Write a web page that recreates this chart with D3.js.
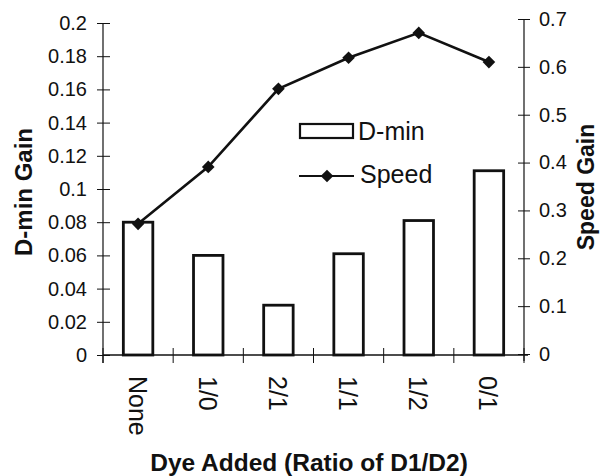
<!DOCTYPE html>
<html>
<head>
<meta charset="utf-8">
<script src="https://cdn.jsdelivr.net/npm/d3@7"></script>
<style>
  body { margin: 0; background: #fff; }
  svg { display: block; }
  text { font-family: "Liberation Sans", Arial, sans-serif; fill: #111; }
</style>
</head>
<body>
<svg id="chart" width="601" height="476"></svg>
<script>
const categories = ["None", "1/0", "2/1", "1/1", "1/2", "0/1"];
const dminGain = [0.08, 0.06, 0.03, 0.061, 0.081, 0.111];
const speedGain = [0.272, 0.391, 0.554, 0.619, 0.671, 0.61];
const leftTicks = [0, 0.02, 0.04, 0.06, 0.08, 0.1, 0.12, 0.14, 0.16, 0.18, 0.2];
const rightTicks = [0, 0.1, 0.2, 0.3, 0.4, 0.5, 0.6, 0.7];

const svg = d3.select("#chart");
const ink = "#111";
const FONT = "Liberation Sans, Arial, sans-serif";

const x = d3.scaleBand().domain(categories).range([103, 524]).padding(0);
const yL = d3.scaleLinear().domain([0, 0.2]).range([355, 23]);
const yR = d3.scaleLinear().domain([0, 0.7]).range([354, 19]);
const fmt = d => String(+d.toFixed(2));

// left axis
const gL = svg.append("g").attr("transform", "translate(103,0)")
  .call(d3.axisLeft(yL).tickValues(leftTicks).tickFormat(fmt).tickSize(6).tickPadding(10));
gL.select(".domain").remove();
gL.selectAll(".tick line").attr("x1", -6).attr("x2", 7).attr("stroke", ink);
gL.selectAll(".tick text").attr("font-size", 20).attr("font-family", FONT).attr("fill", ink);
gL.append("line").attr("x1", 0).attr("x2", 0).attr("y1", yL(0.2)).attr("y2", 363).attr("stroke", ink).attr("stroke-width", 1.2);

// right axis
const gR = svg.append("g").attr("transform", "translate(524,0)")
  .call(d3.axisRight(yR).tickValues(rightTicks).tickFormat(fmt).tickSize(6).tickPadding(9));
gR.select(".domain").remove();
gR.selectAll(".tick line").attr("x1", -6).attr("x2", 6).attr("stroke", ink);
gR.selectAll(".tick text").attr("font-size", 20).attr("font-family", FONT).attr("fill", ink);
gR.append("line").attr("x1", 0).attr("x2", 0).attr("y1", yR(0.7)).attr("y2", 361).attr("stroke", ink).attr("stroke-width", 1.2);

// x axis
const gX = svg.append("g").attr("transform", "translate(0,355)");
gX.append("line").attr("x1", 103).attr("x2", 528).attr("y1", 0).attr("y2", 0).attr("stroke", ink).attr("stroke-width", 1.5);
const edges = categories.map(c => x(c)).concat([x.range()[1]]);
gX.selectAll("line.edge").data(edges).join("line").attr("class", "edge")
  .attr("x1", d => d).attr("x2", d => d).attr("y1", -7).attr("y2", 8)
  .attr("stroke", ink).attr("stroke-width", 1);
gX.selectAll("text.cat").data(categories).join("text").attr("class", "cat")
  .attr("transform", d => `translate(${x(d) + x.bandwidth() / 2},21) rotate(90)`)
  .attr("dy", "0.38em").attr("font-size", 25).text(d => d);

// bars
const bw = x.bandwidth() * 0.42;
svg.append("g").selectAll("rect").data(categories).join("rect")
  .attr("x", d => x(d) + (x.bandwidth() - bw) / 2)
  .attr("width", bw)
  .attr("y", (d, i) => yL(dminGain[i]))
  .attr("height", (d, i) => yL(0) - yL(dminGain[i]))
  .attr("fill", "#fff").attr("stroke", ink).attr("stroke-width", 2.8);

// speed line
const squareDiamond = {
  draw(ctx, size) {
    const r = Math.sqrt(size / 2);
    ctx.moveTo(0, -r); ctx.lineTo(r, 0); ctx.lineTo(0, r); ctx.lineTo(-r, 0); ctx.closePath();
  }
};
const diamond = d3.symbol().type(squareDiamond).size(80);
const line = d3.line().x((d, i) => x(categories[i]) + x.bandwidth() / 2).y(d => yR(d));
svg.append("path").datum(speedGain).attr("d", line)
  .attr("fill", "none").attr("stroke", ink).attr("stroke-width", 2.6);
svg.append("g").selectAll("path").data(speedGain).join("path")
  .attr("d", diamond)
  .attr("transform", (d, i) => `translate(${x(categories[i]) + x.bandwidth() / 2},${yR(d)})`)
  .attr("fill", ink);

// legend
const lg = svg.append("g");
lg.append("rect").attr("x", 300).attr("y", 124).attr("width", 53).attr("height", 14)
  .attr("fill", "#fff").attr("stroke", ink).attr("stroke-width", 2.2);
lg.append("text").attr("x", 358).attr("y", 140).attr("font-size", 25).text("D-min");
lg.append("line").attr("x1", 299).attr("x2", 354).attr("y1", 176).attr("y2", 176)
  .attr("stroke", ink).attr("stroke-width", 2.2);
lg.append("path").attr("d", diamond).attr("transform", "translate(327,176)").attr("fill", ink);
lg.append("text").attr("x", 360).attr("y", 183).attr("font-size", 25).text("Speed");

// axis titles
svg.append("text").attr("transform", "translate(32,192) rotate(-90)")
  .attr("text-anchor", "middle").attr("font-size", 24).attr("font-weight", "bold").text("D-min Gain");
svg.append("text").attr("transform", "translate(594,187) rotate(-90)")
  .attr("text-anchor", "middle").attr("font-size", 23).attr("font-weight", "bold").text("Speed Gain");
svg.append("text").attr("x", 309).attr("y", 471)
  .attr("text-anchor", "middle").attr("font-size", 24.5).attr("font-weight", "bold").text("Dye Added (Ratio of D1/D2)");
</script>
</body>
</html>
